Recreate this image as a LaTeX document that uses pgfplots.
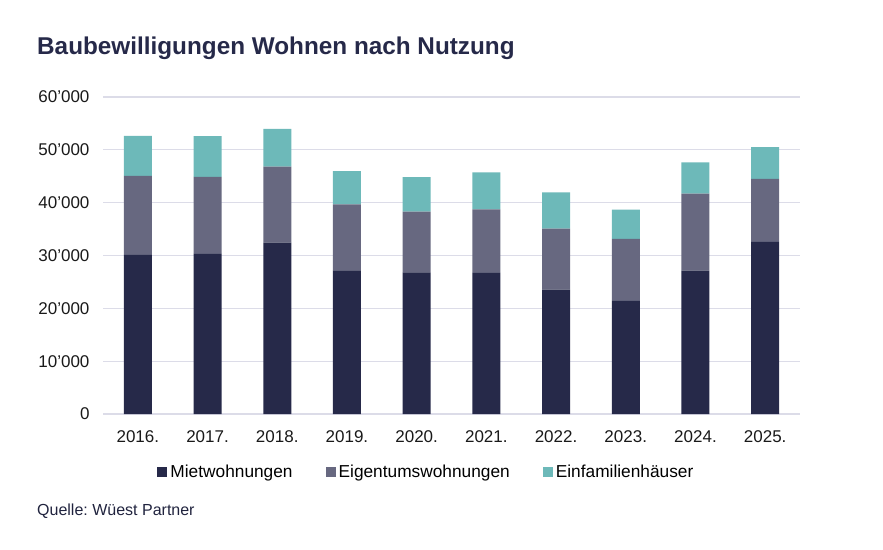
\documentclass[border=0pt]{standalone}
\usepackage{pgfplots}
\pgfplotsset{compat=1.18}
\usepackage{fontspec}
\setmainfont{Liberation Sans}
\frenchspacing
\definecolor{navy}{HTML}{262949}
\definecolor{slate}{HTML}{676880}
\definecolor{teal}{HTML}{6DB9B9}
\definecolor{gridc}{HTML}{DCDCE8}
\begin{document}
\begin{tikzpicture}[x=1pt,y=1pt]
\useasboundingbox (0,0) rectangle (883,549);
\node[anchor=base west,inner sep=0pt,text=navy,font=\fontsize{24.3}{27}\selectfont\bfseries] at (37,494) {Baubewilligungen Wohnen nach Nutzung};
\node[anchor=base west,inner sep=0pt,text=navy!85!black,font=\fontsize{16}{18}\selectfont] at (37,34) {Quelle: Wüest Partner};
\begin{axis}[
  at={(103pt,135pt)}, anchor=south west,
  scale only axis, width=697pt, height=317pt,
  ybar stacked, bar width=28pt,
  xmin=-0.5, xmax=9.5, ymin=0, ymax=60000,
  xtick=data,
  xticklabels={2016.,2017.,2018.,2019.,2020.,2021.,2022.,2023.,2024.,2025.},
  ytick={0,10000,20000,30000,40000,50000,60000},
  /pgf/number format/assume math mode=true,
  /pgf/number format/1000 sep={'},
  scaled y ticks=false,
  ymajorgrids, grid style={gridc, line width=1.2pt},
  axis line style={draw=none},
  major tick length=0pt,
  tick label style={font=\fontsize{17}{20}\selectfont, text=black!90},
  yticklabel style={xshift=-10pt},
  xticklabel style={yshift=-13pt},
  legend columns=3,
  legend style={at={(0.464,-0.183)}, anchor=center, draw=none, fill=none,
    font=\fontsize{17.3}{20}\selectfont, column sep=1pt,
    /tikz/every even column/.append style={column sep=31pt},
    /tikz/every odd column/.append style={inner xsep=0pt}},
  legend image code/.code={\fill[#1] (0pt,-5pt) rectangle (10pt,5pt);},
]
\addplot[fill=navy, draw=none] coordinates {(0,30100)(1,30300)(2,32450)(3,27200)(4,26800)(5,26700)(6,23550)(7,21400)(8,27150)(9,32600)};
\addplot[fill=slate, draw=none] coordinates {(0,14950)(1,14600)(2,14350)(3,12500)(4,11500)(5,12050)(6,11550)(7,11750)(8,14550)(9,11900)};
\addplot[fill=teal, draw=none] coordinates {(0,7600)(1,7700)(2,7150)(3,6250)(4,6550)(5,7000)(6,6850)(7,5550)(8,5950)(9,6000)};
\legend{Mietwohnungen,Eigentumswohnungen,Einfamilienhäuser}
\end{axis}
\end{tikzpicture}
\end{document}
